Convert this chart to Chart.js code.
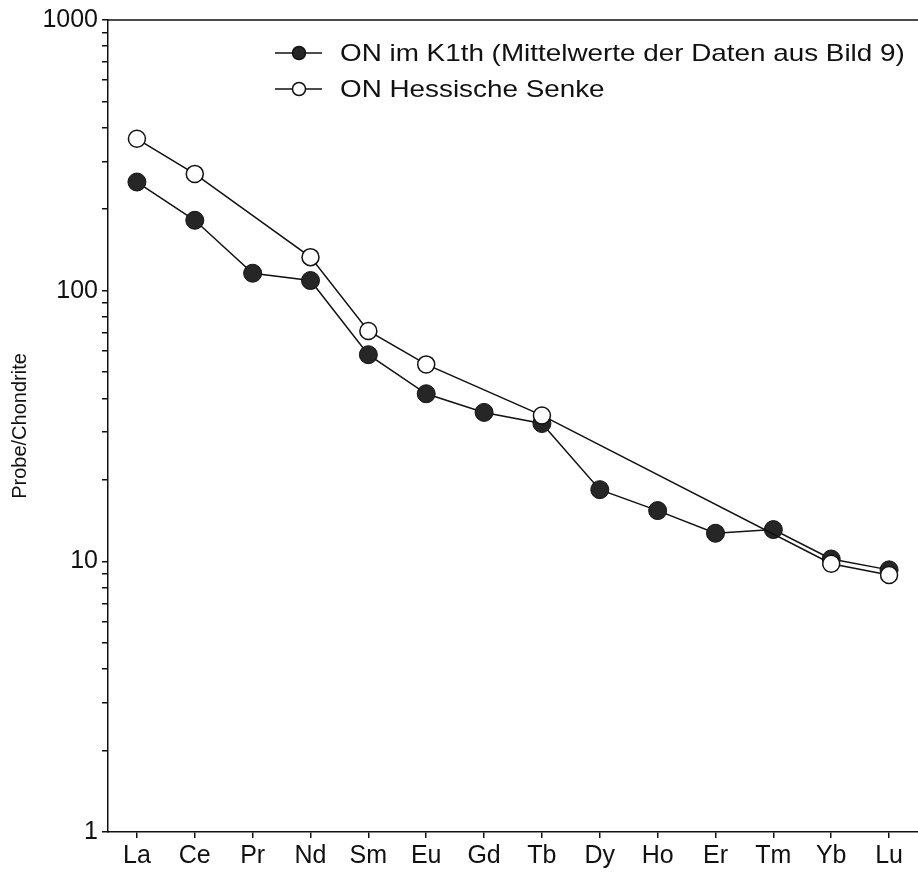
<!DOCTYPE html>
<html>
<head>
<meta charset="utf-8">
<script src="https://cdn.jsdelivr.net/npm/chart.js@4/dist/chart.umd.min.js"></script>
<style>
    html, body { margin: 0; padding: 0; background: #fff; overflow: hidden; }
    canvas { display: block; }
</style>
</head>
<body>
<canvas id="chart" width="918" height="872"></canvas>
<script>
const categories = ['La', 'Ce', 'Pr', 'Nd', 'Sm', 'Eu', 'Gd', 'Tb', 'Dy', 'Ho', 'Er', 'Tm', 'Yb', 'Lu'];
const k1thValues = [252, 182, 116, 109, 58, 41.6, 35.5, 32.3, 18.4, 15.4, 12.7, 13.1, 10.2, 9.3];
const hessenValues = [364, 270, null, 133, 71, 53.4, null, 34.6, null, null, null, null, 9.8, 8.9];
const seriesLabels = ['ON im K1th (Mittelwerte der Daten aus Bild 9)', 'ON Hessische Senke'];
const yTicks = [1, 2, 3, 4, 5, 6, 7, 8, 9, 10, 20, 30, 40, 50, 60, 70, 80, 90, 100, 200, 300, 400, 500, 600, 700, 800, 900, 1000];
const yLabelTicks = [1, 10, 100, 1000];

const FONT = "'Liberation Sans', Arial, Helvetica, sans-serif";
const INK = '#111';

// legend drawn by hand: line + marker, like the original figure
const lineLegend = {
    id: 'lineLegend',
    afterDraw(chart, args, opts) {
        const ctx = chart.ctx;
        const area = chart.chartArea;
        ctx.save();
        // top frame line
        ctx.strokeStyle = INK;
        ctx.lineWidth = 1.5;
        ctx.beginPath();
        ctx.moveTo(area.left, area.top);
        ctx.lineTo(area.right, area.top);
        ctx.stroke();

        const x0 = area.left + opts.x;
        const items = [chart.data.datasets[1], chart.data.datasets[0]];
        items.forEach((ds, i) => {
            const y = area.top + opts.y + i * opts.gap;
            ctx.strokeStyle = INK;
            ctx.lineWidth = 1.5;
            ctx.beginPath();
            ctx.moveTo(x0, y);
            ctx.lineTo(x0 + 47, y);
            ctx.stroke();
            ctx.beginPath();
            ctx.arc(x0 + 24, y, 6.5, 0, Math.PI * 2);
            ctx.fillStyle = ds.pointBackgroundColor;
            ctx.fill();
            ctx.stroke();
            // the scanned lettering is a little wider than Liberation Sans
            ctx.save();
            ctx.translate(x0 + 65, y + 1);
            ctx.scale(1.16, 1);
            ctx.fillStyle = INK;
            ctx.font = '24px ' + FONT;
            ctx.textBaseline = 'middle';
            ctx.textAlign = 'left';
            ctx.fillText(ds.label, 0, 0);
            ctx.restore();
        });
        ctx.restore();
    }
};

new Chart(document.getElementById('chart').getContext('2d'), {
    type: 'line',
    data: {
        labels: categories,
        datasets: [{
            label: seriesLabels[1],
            data: hessenValues,
            spanGaps: true,
            order: 1,
            borderColor: INK,
            borderWidth: 1.5,
            pointRadius: 8.5,
            pointBackgroundColor: '#fff',
            pointBorderColor: INK,
            pointBorderWidth: 1.5,
        }, {
            label: seriesLabels[0],
            data: k1thValues,
            order: 2,
            borderColor: INK,
            borderWidth: 1.5,
            pointRadius: 9,
            pointBackgroundColor: '#262626',
            pointBorderColor: INK,
            pointBorderWidth: 1,
        }]
    },
    options: {
        responsive: false,
        animation: false,
        layout: { autoPadding: false, padding: { top: 20, right: 0, bottom: 0, left: 0 } },
        scales: {
            x: {
                type: 'category',
                offset: true,
                grid: { display: true, drawOnChartArea: false, drawTicks: true, tickLength: 6, color: INK, lineWidth: 1.5 },
                border: { display: true, color: INK, width: 1.5 },
                ticks: { color: INK, font: { family: FONT, size: 25 }, padding: 3, maxRotation: 0, autoSkip: false },
                afterFit: (scale) => {
                    scale.height = 40;
                    scale.paddingLeft = 0;
                    scale.paddingRight = 0;
                }
            },
            y: {
                type: 'logarithmic',
                min: 1,
                max: 1000,
                afterBuildTicks: (scale) => {
                    scale.ticks = yTicks.map(v => ({ value: v, major: yLabelTicks.includes(v) }));
                },
                grid: { display: true, drawOnChartArea: false, drawTicks: true, tickLength: 6, color: INK, lineWidth: 1.5 },
                border: { display: true, color: INK, width: 1.5 },
                ticks: {
                    color: INK,
                    font: { family: FONT, size: 25 },
                    padding: 4,
                    autoSkip: false,
                    callback: (v) => yLabelTicks.includes(v) ? String(v) : ''
                },
                title: {
                    display: true,
                    text: 'Probe/Chondrite',
                    color: INK,
                    font: { family: FONT, size: 20 },
                    padding: { top: 8, bottom: 0 }
                },
                afterFit: (scale) => { scale.width = 108; }
            }
        },
        plugins: {
            legend: { display: false },
            tooltip: { enabled: false },
            lineLegend: { x: 167, y: 33, gap: 36 }
        }
    },
    plugins: [lineLegend]
});
</script>
</body>
</html>
